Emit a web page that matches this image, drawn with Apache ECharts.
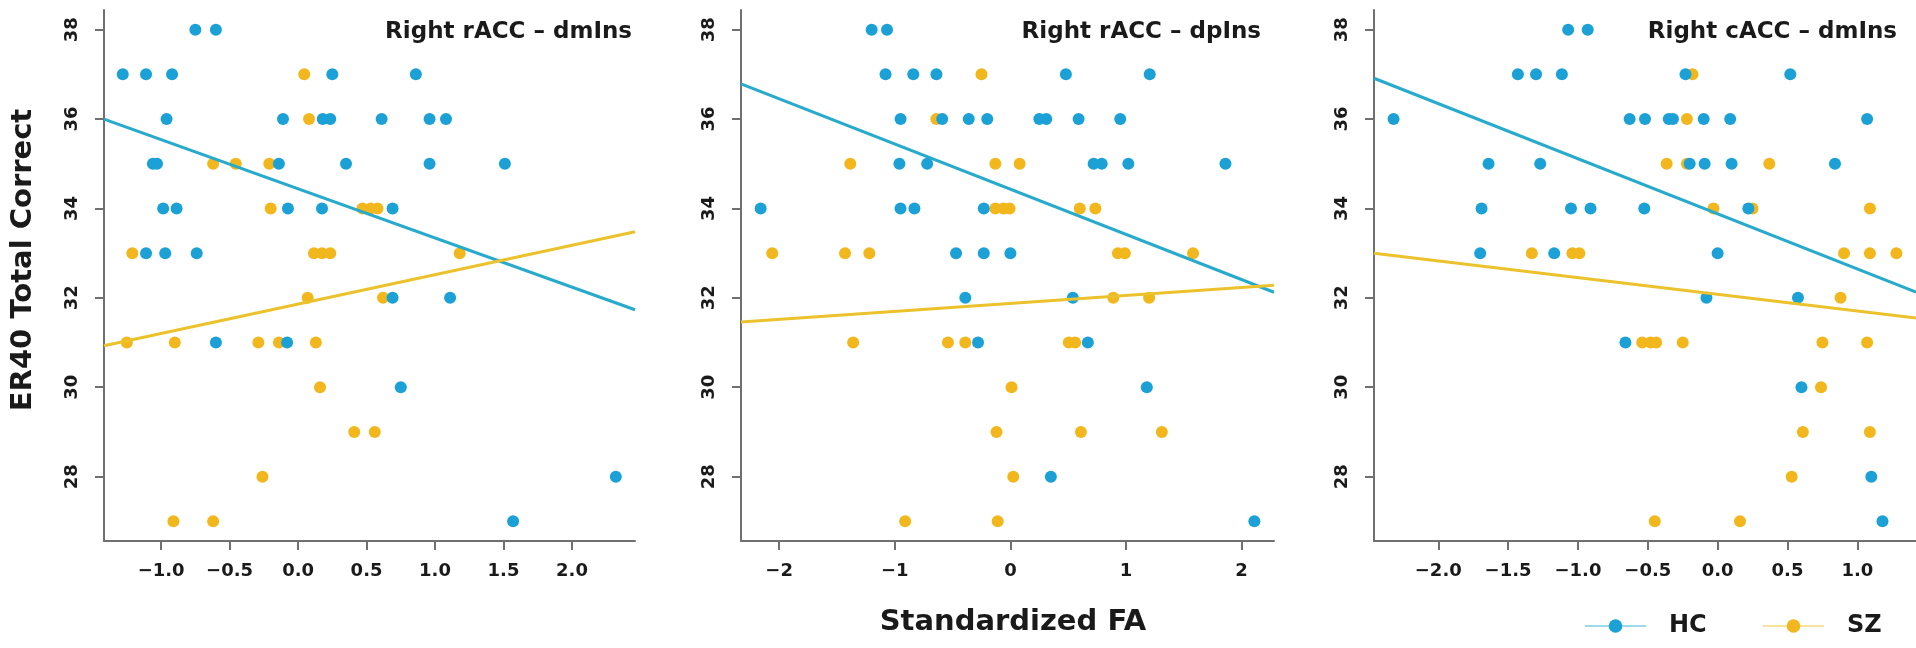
<!DOCTYPE html>
<html><head><meta charset="utf-8">
<script src="https://cdn.jsdelivr.net/npm/echarts@6/dist/echarts.min.js"></script>
<style>html,body{margin:0;padding:0;background:#fff}#c{width:1916px;height:648px}</style>
</head><body><div id="c"></div>
<script>
// ---------- DATA ----------
const panelTitles = ['Right rACC \u2013 dmIns', 'Right rACC \u2013 dpIns', 'Right cACC \u2013 dmIns'];
const yTitle = 'ER40 Total Correct';
const xTitle = 'Standardized FA';
const yTicks = [28, 30, 32, 34, 36, 38];
const yRange = [26.56, 38.44];
const p1XTicks = [-1.0, -0.5, 0.0, 0.5, 1.0, 1.5, 2.0];
const p2XTicks = [-2, -1, 0, 1, 2];
const p3XTicks = [-2.0, -1.5, -1.0, -0.5, 0.0, 0.5, 1.0];
const p1XRange = [-1.417, 2.46];
const p2XRange = [-2.33, 2.28];
const p3XRange = [-2.46, 1.42];

// Panel 1: Right rACC - dmIns
const p1HC = [
  [-0.75,38],[-0.60,38],
  [-1.28,37],[-1.11,37],[-0.92,37],[0.25,37],[0.86,37],
  [-0.96,36],[-0.11,36],[0.18,36],[0.235,36],[0.61,36],[0.96,36],[1.08,36],
  [-1.06,35],[-1.03,35],[-0.14,35],[0.35,35],[0.96,35],[1.51,35],
  [-0.985,34],[-0.887,34],[-0.074,34],[0.175,34],[0.69,34],
  [-1.11,33],[-0.97,33],[-0.74,33],
  [0.69,32],[1.11,32],
  [-0.60,31],[-0.08,31],
  [0.75,30],
  [2.32,28],
  [1.57,27]
];
const p1SZ = [
  [0.045,37],
  [0.08,36],
  [-0.62,35],[-0.455,35],[-0.21,35],
  [-0.20,34],[0.47,34],[0.53,34],[0.58,34],
  [-1.21,33],[0.116,33],[0.175,33],[0.235,33],[1.18,33],
  [0.07,32],[0.62,32],
  [-1.25,31],[-0.90,31],[-0.29,31],[-0.14,31],[0.13,31],
  [0.16,30],
  [0.41,29],[0.56,29],
  [-0.26,28],
  [-0.91,27],[-0.62,27]
];
// Panel 2: Right rACC - dpIns
const p2HC = [
  [-1.20,38],[-1.067,38],
  [-1.08,37],[-0.84,37],[-0.64,37],[0.48,37],[1.205,37],
  [-0.95,36],[-0.59,36],[-0.36,36],[-0.20,36],[0.25,36],[0.31,36],[0.59,36],[0.95,36],
  [-0.96,35],[-0.72,35],[0.72,35],[0.79,35],[1.02,35],[1.86,35],
  [-2.16,34],[-0.95,34],[-0.83,34],[-0.23,34],
  [-0.47,33],[-0.23,33],[0.0,33],
  [-0.39,32],[0.54,32],
  [-0.28,31],[0.67,31],
  [1.18,30],
  [0.35,28],
  [2.11,27]
];
const p2SZ = [
  [-0.25,37],
  [-0.64,36],
  [-1.385,35],[-0.13,35],[0.08,35],
  [-0.13,34],[-0.06,34],[-0.007,34],[0.60,34],[0.735,34],
  [-2.06,33],[-1.43,33],[-1.22,33],[0.93,33],[0.99,33],[1.58,33],
  [0.89,32],[1.20,32],
  [-1.36,31],[-0.54,31],[-0.39,31],[0.505,31],[0.56,31],
  [0.01,30],
  [-0.12,29],[0.61,29],[1.31,29],
  [0.025,28],
  [-0.91,27],[-0.11,27]
];
// Panel 3: Right cACC - dmIns
const p3HC = [
  [-1.07,38],[-0.93,38],
  [-1.43,37],[-1.30,37],[-1.115,37],[-0.23,37],[0.52,37],
  [-2.32,36],[-0.63,36],[-0.52,36],[-0.35,36],[-0.32,36],[-0.10,36],[0.09,36],[1.07,36],
  [-1.64,35],[-1.27,35],[-0.20,35],[-0.093,35],[0.10,35],[0.84,35],
  [-1.69,34],[-1.05,34],[-0.91,34],[-0.525,34],[0.22,34],
  [-1.70,33],[-1.17,33],[0.0,33],
  [-0.08,32],[0.575,32],
  [-0.66,31],
  [0.60,30],
  [1.10,28],
  [1.18,27]
];
const p3SZ = [
  [-0.18,37],
  [-0.22,36],
  [-0.365,35],[-0.22,35],[0.37,35],
  [-0.03,34],[0.25,34],[1.09,34],
  [-1.33,33],[-1.04,33],[-0.99,33],[0.905,33],[1.09,33],[1.28,33],
  [0.88,32],
  [-0.54,31],[-0.48,31],[-0.44,31],[-0.25,31],[0.75,31],[1.07,31],
  [0.74,30],
  [0.61,29],[1.09,29],
  [0.53,28],
  [-0.45,27],[0.16,27]
];
// regression fits [intercept, slope]
const p1FitHC = [34.44, -1.10];
const p1FitSZ = [31.86, 0.658];
const p2FitHC = [34.43, -1.011];
const p2FitSZ = [31.875, 0.178];
const p3FitHC = [33.88, -1.233];
const p3FitSZ = [32.08, -0.373];

// ---------- STYLE / LAYOUT ----------
const FONT = 'DejaVu Sans';
const TXT = '#1a1a1a';
const AXC = '#707070';
const colHC = '#1BA1D6', colSZ = '#F1B71C';
const lineHC = '#27AACB', lineSZ = '#ECC22C';
const grids = [
  {left: 104, width: 531, top: 10, height: 531},
  {left: 741, width: 533, top: 10, height: 531},
  {left: 1374, width: 542, top: 10, height: 531}
];
const titleRight = [632, 1261, 1897];

const panels = [
  {hc: p1HC, sz: p1SZ, fhc: p1FitHC, fsz: p1FitSZ, xr: p1XRange, xt: p1XTicks, dec: 1},
  {hc: p2HC, sz: p2SZ, fhc: p2FitHC, fsz: p2FitSZ, xr: p2XRange, xt: p2XTicks, dec: 0},
  {hc: p3HC, sz: p3SZ, fhc: p3FitHC, fsz: p3FitSZ, xr: p3XRange, xt: p3XTicks, dec: 1}
];

function fmt(v, d) {
  const s = Math.abs(v).toFixed(d);
  return (v < -1e-9 ? '\u2212' : '') + s;
}
function fitLine(f, r) {
  return [[r[0], f[0] + f[1] * r[0]], [r[1], f[0] + f[1] * r[1]]];
}

const axisLine = {show: true, onZero: false, lineStyle: {color: AXC, width: 2}};
const xAxis = [], yAxis = [], title = [];
const lineSeries = [], pointSeries = [];

panels.forEach((p, i) => {
  xAxis.push({
    type: 'value', gridIndex: i, min: p.xr[0], max: p.xr[1],
    axisLine: axisLine,
    axisTick: {show: true, length: 9, inside: false, customValues: p.xt, lineStyle: {color: AXC, width: 2}},
    axisLabel: {show: true, customValues: p.xt, margin: 21, formatter: v => fmt(v, p.dec),
      fontFamily: FONT, fontWeight: 'bold', fontSize: 18, color: TXT},
    splitLine: {show: false}
  });
  yAxis.push({
    type: 'value', gridIndex: i, min: yRange[0], max: yRange[1],
    axisLine: axisLine,
    axisTick: {show: true, length: 9, inside: false, customValues: yTicks, lineStyle: {color: AXC, width: 2}},
    axisLabel: {show: true, customValues: yTicks, rotate: 90, margin: 23,
      fontFamily: FONT, fontWeight: 'bold', fontSize: 18, color: TXT},
    splitLine: {show: false}
  });
  title.push({
    text: panelTitles[i], right: 1916 - titleRight[i], top: 21, padding: 0,
    textStyle: {fontFamily: FONT, fontWeight: 'bold', fontSize: 23, color: TXT}
  });
  lineSeries.push({
    name: 'HC', type: 'line', xAxisIndex: i, yAxisIndex: i, data: fitLine(p.fhc, p.xr),
    symbol: 'circle', showSymbol: false, silent: true, z: 3,
    itemStyle: {color: colHC}, lineStyle: {color: lineHC, width: 3}
  });
  lineSeries.push({
    name: 'SZ', type: 'line', xAxisIndex: i, yAxisIndex: i, data: fitLine(p.fsz, p.xr),
    symbol: 'circle', showSymbol: false, silent: true, z: 3,
    itemStyle: {color: colSZ}, lineStyle: {color: lineSZ, width: 3}
  });
  pointSeries.push({
    name: 'SZ', type: 'scatter', xAxisIndex: i, yAxisIndex: i, data: p.sz,
    symbolSize: 12, itemStyle: {color: colSZ, opacity: 1}, z: 2
  });
  pointSeries.push({
    name: 'HC', type: 'scatter', xAxisIndex: i, yAxisIndex: i, data: p.hc,
    symbolSize: 12, itemStyle: {color: colHC, opacity: 1}, z: 2
  });
});

const legendBase = {
  top: 614, padding: 0, itemWidth: 61, itemHeight: 17, selectedMode: false,
  textStyle: {fontFamily: FONT, fontWeight: 'bold', fontSize: 24, color: TXT, padding: [0, 0, 0, 18]},
  lineStyle: {width: 2, opacity: 0.45}
};

const option = {
  animation: false,
  backgroundColor: '#ffffff',
  title: title,
  grid: grids,
  xAxis: xAxis,
  yAxis: yAxis,
  legend: [
    Object.assign({}, legendBase, {data: ['HC'], left: 1584}),
    Object.assign({}, legendBase, {data: ['SZ'], left: 1762})
  ],
  graphic: [
    {type: 'text', x: 23, y: 260, rotation: Math.PI / 2,
     style: {text: yTitle, fontFamily: FONT, fontWeight: 'bold', fontSize: 29, fill: TXT,
             align: 'center', verticalAlign: 'middle'}},
    {type: 'text', x: 1013, y: 622,
     style: {text: xTitle, fontFamily: FONT, fontWeight: 'bold', fontSize: 29, fill: TXT,
             align: 'center', verticalAlign: 'middle'}}
  ],
  series: lineSeries.concat(pointSeries)
};

const chart = echarts.init(document.getElementById('c'), null, {renderer: 'canvas'});
chart.setOption(option);
</script>
</body></html>
